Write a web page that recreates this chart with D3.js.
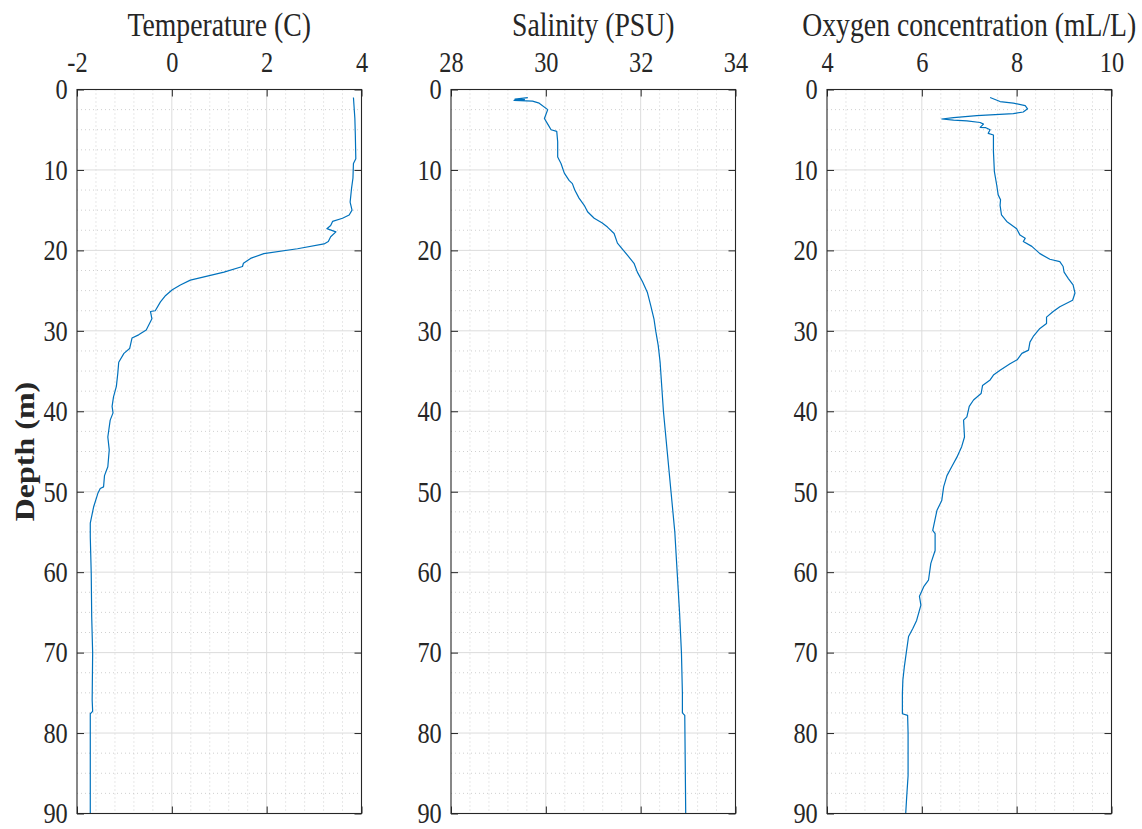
<!DOCTYPE html>
<html>
<head>
<meta charset="utf-8">
<script src="https://cdn.jsdelivr.net/npm/d3@7"></script>
<style>
  html, body { margin: 0; padding: 0; background: #fff; }
  svg { display: block; }
  text { font-family: "Liberation Serif", "Times New Roman", serif; fill: #262626; }
</style>
</head>
<body>
<svg id="chart" width="1142" height="829"></svg>
<script>
// CTD profile: depth (m) with temperature, salinity and dissolved oxygen

const tempDepth = [1.0, 3.6, 5.7, 8.6, 9.2, 11.0, 12.3, 14.0, 15.0, 15.6, 16.0, 16.4, 16.9, 17.3, 17.7,
  18.3, 18.9, 19.2, 19.8, 20.4, 21.0, 21.6, 22.0, 22.7, 23.3, 23.7, 24.3, 24.9, 25.6, 26.4, 27.5,
  27.6, 28.5, 29.9, 30.5, 30.9, 32.2, 32.8, 33.9, 35.3, 36.9, 38.2, 39.4, 40.2, 41.1, 43.2, 44.8,
  46.9, 48.0, 49.4, 49.6, 50.2, 51.9, 53.9, 55.6, 60.1, 65.5, 70.0, 75.9, 77.3, 77.6, 84.0, 90.0];
const temperature = [3.83, 3.86, 3.87, 3.88, 3.83, 3.82, 3.79, 3.76, 3.80, 3.74, 3.60, 3.39, 3.35, 3.27, 3.46,
  3.35, 3.30, 3.21, 2.65, 1.94, 1.66, 1.51, 1.49, 1.10, 0.68, 0.39, 0.18, 0.01, -0.13, -0.24, -0.35,
  -0.45, -0.42, -0.54, -0.70, -0.84, -0.89, -1.01, -1.12, -1.14, -1.17, -1.23, -1.26, -1.24, -1.30, -1.35, -1.32,
  -1.35, -1.42, -1.44, -1.51, -1.56, -1.65, -1.72, -1.72, -1.70, -1.69, -1.67, -1.68, -1.67, -1.72, -1.72, -1.72];

const salDepth = [1.0, 1.2, 1.25, 1.35, 1.45, 1.7, 2.5, 3.6, 4.4, 5.0, 5.2, 6.5, 8.4, 9.2, 10.4, 11.3,
  11.7, 12.5, 13.5, 14.4, 15.2, 16.0, 16.6, 17.1, 17.9, 19.1, 19.8, 20.6, 21.6, 22.7, 23.9, 25.2,
  26.8, 28.5, 30.1, 31.8, 33.9, 40.0, 45.0, 50.0, 55.0, 60.0, 65.0, 70.0, 75.0, 77.5, 77.8, 90.0];
const salinity = [29.62, 29.35, 29.55, 29.33, 29.72, 29.86, 30.04, 29.97, 30.05, 30.11, 30.23, 30.25, 30.25, 30.32, 30.39, 30.49,
  30.56, 30.61, 30.70, 30.81, 30.88, 31.02, 31.19, 31.30, 31.44, 31.51, 31.61, 31.72, 31.86, 31.93, 32.04, 32.14,
  32.21, 32.28, 32.32, 32.37, 32.41, 32.48, 32.56, 32.64, 32.72, 32.77, 32.82, 32.86, 32.88, 32.88, 32.93, 32.95];

const oxyDepth = [1.0, 1.5, 1.7, 2.0, 2.4, 2.8, 3.0, 3.25, 3.5, 3.67, 3.8, 3.9, 4.1, 4.3, 4.7, 4.75,
  5.0, 5.45, 5.66, 7.7, 10.2, 11.9, 13.1, 13.7, 14.4, 15.6, 16.4, 17.3, 18.1, 18.5, 18.9, 19.5,
  20.4, 21.1, 21.4, 22.0, 22.7, 23.5, 24.3, 25.3, 26.2, 27.0, 27.6, 28.3, 29.1, 29.7, 30.7, 31.4,
  32.4, 32.8, 33.6, 34.1, 34.9, 35.5, 36.1, 36.8, 37.8, 38.6, 39.4, 40.7, 41.1, 43.2, 44.4, 45.7,
  46.9, 48.0, 49.4, 51.1, 52.3, 54.8, 55.2, 57.3, 58.9, 61.0, 61.8, 63.0, 64.1, 66.0, 67.0, 68.0,
  70.1, 71.8, 73.4, 75.1, 77.6, 77.8, 80.0, 85.3, 88.0, 90.0];
const oxygen = [7.44, 7.65, 7.93, 8.18, 8.23, 8.14, 7.93, 7.16, 6.67, 6.42, 6.67, 6.95, 7.23, 7.30, 7.23, 7.35,
  7.44, 7.40, 7.51, 7.51, 7.53, 7.58, 7.61, 7.66, 7.65, 7.68, 7.79, 8.00, 8.07, 8.18, 8.14, 8.32,
  8.49, 8.70, 8.91, 8.98, 9.00, 9.09, 9.19, 9.23, 9.18, 8.91, 8.77, 8.63, 8.63, 8.49, 8.35, 8.28,
  8.25, 8.11, 8.01, 7.86, 7.65, 7.51, 7.44, 7.28, 7.25, 7.09, 7.00, 6.95, 6.88, 6.90, 6.84, 6.74,
  6.63, 6.53, 6.46, 6.42, 6.32, 6.23, 6.28, 6.28, 6.19, 6.14, 6.04, 5.95, 5.98, 5.89, 5.81, 5.72,
  5.67, 5.63, 5.60, 5.59, 5.59, 5.70, 5.71, 5.71, 5.68, 5.66];

const panelTitles = ["Temperature (C)", "Salinity (PSU)", "Oxygen concentration (mL/L)"];
const xDomains = [[-2, 4], [28, 34], [4, 10]];
const xTickValues = [[-2, 0, 2, 4], [28, 30, 32, 34], [4, 6, 8, 10]];
const depthTicks = [0, 10, 20, 30, 40, 50, 60, 70, 80, 90];
const depthLabel = "Depth (m)";

// ---- layout ----
const svg = d3.select("#chart");
const panelLeft = [77, 451, 827];
const panelW = 284.5;
const plotTop = 89.5, plotH = 724;
const SX = 0.84;             // horizontal text condensation
const ink = "#262626";
const lineColor = "#0072BD";
const plainNumber = d => String(d);   // "-2" with an ASCII hyphen, no decimals

const y = d3.scaleLinear().domain([0, 90]).range([plotTop, plotTop + plotH]);
const minorDepth = d3.range(0, 90.01, 2.5).filter(v => v % 10 !== 0);

const series = [
  { depth: tempDepth, value: temperature },
  { depth: salDepth, value: salinity },
  { depth: oxyDepth, value: oxygen }
];

series.forEach((s, i) => {
  const x0 = panelLeft[i];
  const x = d3.scaleLinear().domain(xDomains[i]).range([x0, x0 + panelW]);
  const g = svg.append("g");

  // minor grid (dotted)
  const [d0, d1] = xDomains[i];
  const minorX = d3.range(d0, d1 + 1e-9, (d1 - d0) / 15)
    .filter(v => Math.abs(((v - d0) / 2) - Math.round((v - d0) / 2)) > 1e-6);
  const grid = g.append("g");
  grid.selectAll("line.mx").data(minorX).join("line")
    .attr("x1", d => x(d)).attr("x2", d => x(d))
    .attr("y1", plotTop).attr("y2", plotTop + plotH)
    .attr("stroke", "#c4c4c4").attr("stroke-width", 0.8).attr("stroke-dasharray", "1 3");
  grid.selectAll("line.my").data(minorDepth).join("line")
    .attr("x1", x0).attr("x2", x0 + panelW)
    .attr("y1", d => y(d)).attr("y2", d => y(d))
    .attr("stroke", "#c4c4c4").attr("stroke-width", 0.8).attr("stroke-dasharray", "1 3");
  // major grid
  grid.selectAll("line.gx").data(xTickValues[i].slice(1, -1)).join("line")
    .attr("x1", d => x(d)).attr("x2", d => x(d))
    .attr("y1", plotTop).attr("y2", plotTop + plotH)
    .attr("stroke", "#dcdcdc").attr("stroke-width", 1);
  grid.selectAll("line.gy").data(depthTicks.slice(1, -1)).join("line")
    .attr("x1", x0).attr("x2", x0 + panelW)
    .attr("y1", d => y(d)).attr("y2", d => y(d))
    .attr("stroke", "#dcdcdc").attr("stroke-width", 1);

  // profile line
  const pts = s.depth.map((d, k) => [s.value[k], d]);
  g.append("path").datum(pts)
    .attr("fill", "none").attr("stroke", lineColor).attr("stroke-width", 1.2)
    .attr("stroke-linejoin", "round")
    .attr("d", d3.line().x(p => x(p[0])).y(p => y(p[1])));

  // axes: labelled top and left, tick-only bottom and right
  const axTop = g.append("g").attr("transform", `translate(0,${plotTop})`)
    .call(d3.axisTop(x).tickValues(xTickValues[i]).tickFormat(plainNumber)
      .tickSizeInner(-7).tickSizeOuter(0).tickPadding(18));
  const axBottom = g.append("g").attr("transform", `translate(0,${plotTop + plotH})`)
    .call(d3.axisBottom(x).tickValues(xTickValues[i]).tickSizeInner(-7).tickSizeOuter(0).tickFormat(""));
  const axLeft = g.append("g").attr("transform", `translate(${x0},0)`)
    .call(d3.axisLeft(y).tickValues(depthTicks).tickFormat(plainNumber)
      .tickSizeInner(-7).tickSizeOuter(0).tickPadding(11));
  const axRight = g.append("g").attr("transform", `translate(${x0 + panelW},0)`)
    .call(d3.axisRight(y).tickValues(depthTicks).tickSizeInner(-7).tickSizeOuter(0).tickFormat(""));

  [axTop, axBottom, axLeft, axRight].forEach(a => {
    a.select(".domain").remove();
    a.selectAll(".tick line").attr("stroke", ink).attr("stroke-width", 1);
  });
  [axTop, axLeft].forEach(a => {
    a.selectAll(".tick text")
      .attr("font-family", "Liberation Serif, serif")
      .attr("font-size", 29).attr("fill", ink)
      .attr("transform", `scale(${SX},1)`);
  });
  axLeft.selectAll(".tick text").attr("dy", "0.32em");
  axTop.selectAll(".tick text").attr("dy", "0");

  // box
  g.append("rect").attr("x", x0).attr("y", plotTop).attr("width", panelW).attr("height", plotH)
    .attr("fill", "none").attr("stroke", ink).attr("stroke-width", 1.1);

  // title
  g.append("text")
    .attr("transform", `translate(${x0 + panelW / 2},36) scale(${SX},1)`)
    .attr("text-anchor", "middle").attr("font-size", 33).attr("fill", ink)
    .text(panelTitles[i]);
});

// shared depth label
svg.append("text")
  .attr("transform", `translate(33.5,${plotTop + plotH / 2}) scale(${SX},1) rotate(-90)`)
  .attr("text-anchor", "middle").attr("font-size", 32).attr("font-weight", "bold").attr("fill", ink)
  .text(depthLabel);
</script>
</body>
</html>
